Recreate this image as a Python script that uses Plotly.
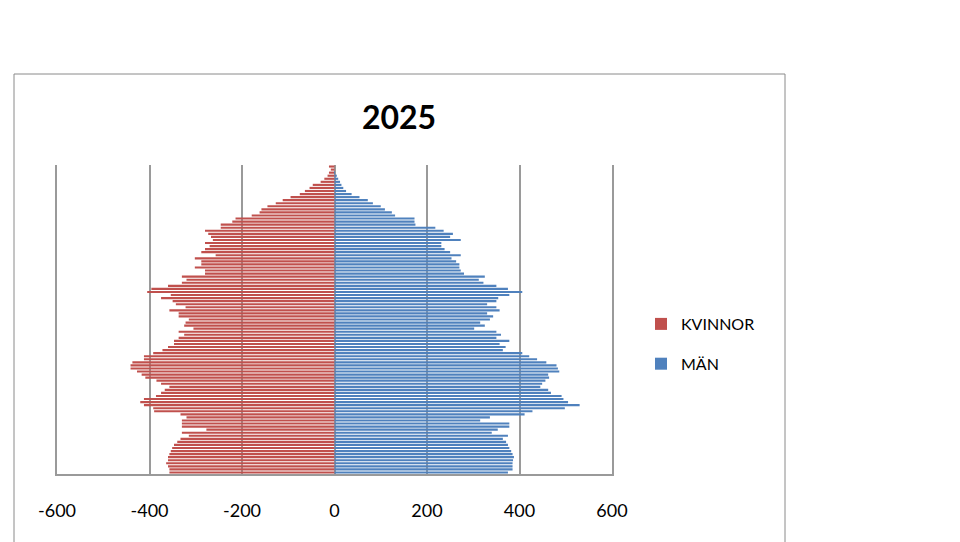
import plotly.graph_objects as go

# Ages listed from oldest (top of pyramid) to youngest (bottom)
ages = list(range(100, -1, -1))

kvinnor = [-12, -8, -12, -15, -22, -30, -47, -54, -64, -75,
           -95, -112, -127, -145, -158, -162, -179, -214, -221, -246,
           -246, -280, -273, -267, -263, -280, -270, -280, -288, -257,
           -302, -288, -288, -302, -280, -280, -330, -320, -330, -360,
           -396, -405, -354, -375, -350, -343, -322, -357, -337, -337,
           -315, -322, -325, -305, -337, -325, -337, -347, -347, -360,
           -372, -392, -412, -412, -437, -441, -441, -427, -417, -409,
           -385, -375, -357, -367, -375, -386, -412, -420, -412, -392,
           -390, -333, -320, -330, -330, -330, -277, -330, -315, -333,
           -340, -347, -351, -354, -357, -360, -360, -364, -360, -357,
           -357]

man = [0, 0, 1, 5, 8, 12, 15, 19, 25, 37,
       54, 72, 83, 100, 109, 124, 131, 173, 173, 175,
       218, 236, 256, 250, 273, 231, 231, 238, 250, 273,
       253, 263, 270, 270, 273, 280, 325, 312, 322, 350,
       375, 406, 378, 354, 350, 330, 350, 357, 330, 343,
       336, 315, 325, 302, 350, 360, 350, 378, 357, 370,
       364, 406, 421, 438, 458, 480, 483, 486, 462, 464,
       456, 449, 445, 462, 468, 491, 495, 505, 530, 498,
       428, 411, 336, 315, 378, 378, 353, 340, 375, 364,
       371, 375, 378, 382, 385, 388, 386, 385, 385, 385,
       375]

tick_vals = [-600, -400, -200, 0, 200, 400, 600]
tick_text = ["-600", "-400", "-200", "0", "200", "400", "600"]

series_names = ["KVINNOR", "MÄN"]
colors = ["#C0504D", "#4F81BD"]

FONT = "Lato, 'Open Sans', sans-serif"
GRID = "#9a9a9a"

fig = go.Figure()
fig.add_trace(go.Bar(y=ages, x=kvinnor, orientation="h", name=series_names[0],
                     marker=dict(color=colors[0], line=dict(width=0)),
                     legendgroup="k"))
fig.add_trace(go.Bar(y=ages, x=man, orientation="h", name=series_names[1],
                     marker=dict(color=colors[1], line=dict(width=0)),
                     legendgroup="m"))

# page body has an 8px margin, so the figure is shifted by OFF
OFF = 8
W, H = 960 - OFF, 542 - OFF
L, R, T, B = 57 - OFF, 612 - OFF, 165 - OFF, 474 - OFF
pw, ph = R - L, B - T

def px(x):
    return (x - OFF - L) / pw

def py(y):
    return (B - (y - OFF)) / ph

fig.update_layout(
    width=W, height=H,
    margin=dict(l=L, r=W - R, t=T, b=H - B, pad=0),
    paper_bgcolor="white", plot_bgcolor="white",
    barmode="relative", bargap=0.3,
    font=dict(family=FONT, color="#000000"),
    title=dict(text="<b>2025</b>", x=(399 - OFF) / W, xref="container", xanchor="center",
               y=1 - (118 - OFF) / H, yref="container", yanchor="middle",
               font=dict(family=FONT, size=32, color="#000000")),
    showlegend=True,
    legend=dict(x=px(641), y=py(307), xanchor="left", yanchor="top",
                font=dict(family=FONT, size=16, color="#000000"),
                traceorder="grouped", tracegroupgap=16,
                bgcolor="rgba(0,0,0,0)", borderwidth=0),
    xaxis=dict(range=[-600, 600], tickvals=tick_vals, ticktext=tick_text,
               showgrid=True, gridcolor=GRID, gridwidth=2,
               zeroline=True, zerolinecolor=GRID, zerolinewidth=2,
               showline=True, linecolor=GRID, linewidth=2,
               ticks="", ticklabelstandoff=19,
               tickfont=dict(family=FONT, size=18, color="#000000"),
               fixedrange=True),
    yaxis=dict(range=[-0.5, 100.5], showticklabels=False, showgrid=False,
               zeroline=False, showline=True, mirror=True,
               linecolor=GRID, linewidth=2, ticks="", fixedrange=True),
    shapes=[dict(type="rect", xref="paper", yref="paper",
                 x0=px(14), x1=px(785), y0=py(560), y1=py(74),
                 line=dict(color="#8a8a8a", width=1), fillcolor="rgba(0,0,0,0)",
                 layer="below")],
)

fig.write_html("out.html")
